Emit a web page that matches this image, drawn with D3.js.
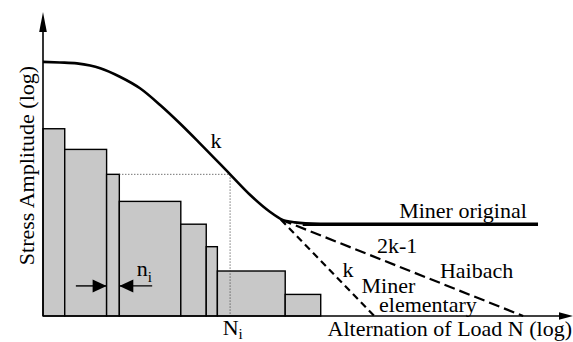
<!DOCTYPE html>
<html>
<head>
<meta charset="utf-8">
<script src="https://cdn.jsdelivr.net/npm/d3@7"></script>
<style>
  body { margin: 0; background: #fff; }
  svg { display: block; }
  text { font-family: "Liberation Serif", "Times New Roman", serif; font-size: 22px; fill: #000; }
</style>
</head>
<body>
<svg width="573" height="342"></svg>
<script>
var svg = d3.select('svg');

// load spectrum blocks: cycle-count edges (log N units) and stress level of each block
var blockEdges = [0, 0.41, 1.2, 1.44, 2.6, 3.08, 3.29, 4.57, 5.24];
var blockLevels = [6.16, 5.48, 4.66, 3.77, 3.02, 2.28, 1.48, 0.71];

// S-N curve
var curveN = [0, 0.32, 0.64, 0.89, 1.08, 1.45, 1.83, 2.21, 2.58, 2.96, 3.53, 3.91, 4.28, 4.51, 4.75, 5.23];
var curveS = [8.36, 8.34, 8.31, 8.24, 8.15, 7.87, 7.49, 6.94, 6.34, 5.68, 4.66, 3.98, 3.43, 3.17, 3.08, 3.02];

// extensions below the knee
var minerOriginalN = [4.9, 9.34];
var minerOriginalS = [3.02, 3.02];
var haibachN = [4.49, 9.06];
var haibachS = [3.17, 0];
var elementaryN = [4.49, 6.25];
var elementaryS = [3.17, 0];

// the marked block i and its life N_i
var markedBlock = 2;
var lifeNi = 3.53;

//scales: both axes are log units with no ticks
var x = d3.scaleLinear().domain([0, 10]).range([43, 573]);
var y = d3.scaleLinear().domain([0, 10]).range([316, 12]);

function pts(ns, ss){
    return ns.map(function(n, i){ return [n, ss[i]]; });
}
var line = d3.line()
    .x(function(d){ return x(d[0]); })
    .y(function(d){ return y(d[1]); });

//blocks
var blocks = blockLevels.map(function(s, i){
    return {n0: blockEdges[i], n1: blockEdges[i + 1], s: s};
});
svg.selectAll('.block')
    .data(blocks)
    .enter()
    .append('rect')
    .attr('class', 'block')
    .attr('x', function(d){ return x(d.n0); })
    .attr('y', function(d){ return y(d.s); })
    .attr('width', function(d){ return x(d.n1) - x(d.n0); })
    .attr('height', function(d){ return y(0) - y(d.s); })
    .attr('fill', '#c8c8c8')
    .attr('stroke', '#000')
    .attr('stroke-width', 1.4);

//dotted guide from block i to the curve and down to N_i
svg.append('path')
    .attr('d', line([[blockEdges[markedBlock + 1], blockLevels[markedBlock]], [lifeNi, blockLevels[markedBlock]], [lifeNi, 0]]))
    .attr('fill', 'none')
    .attr('stroke', '#333')
    .attr('stroke-width', 1)
    .attr('stroke-dasharray', '1,2');

//S-N curve
svg.append('path')
    .attr('d', line.curve(d3.curveMonotoneX)(pts(curveN, curveS)))
    .attr('fill', 'none')
    .attr('stroke', '#000')
    .attr('stroke-width', 2.6);
line.curve(d3.curveLinear);

svg.append('path')
    .attr('d', line(pts(minerOriginalN, minerOriginalS)))
    .attr('stroke', '#000')
    .attr('stroke-width', 3.6);

svg.append('path')
    .attr('d', line(pts(haibachN, haibachS)))
    .attr('stroke', '#000')
    .attr('stroke-width', 2.2)
    .attr('stroke-dasharray', '11,5');

svg.append('path')
    .attr('d', line(pts(elementaryN, elementaryS)))
    .attr('stroke', '#000')
    .attr('stroke-width', 2.2)
    .attr('stroke-dasharray', '7,4.5');

//axes with arrow heads
svg.append('line')
    .attr('x1', x(0)).attr('y1', y(0))
    .attr('x2', x(0)).attr('y2', y(9.4))
    .attr('stroke', '#000').attr('stroke-width', 1.6);
svg.append('path')
    .attr('d', 'M' + x(0) + ',' + y(10) + 'l-3.8,20l7.6,0z');
svg.append('line')
    .attr('x1', x(0)).attr('y1', y(0))
    .attr('x2', x(9.8)).attr('y2', y(0))
    .attr('stroke', '#000').attr('stroke-width', 1.6);
svg.append('path')
    .attr('d', 'M' + x(10) + ',' + y(0) + 'l-14,-3.8l0,7.6z');

//n_i arrows pointing at the width of block i
var arrowV = 0.99;
svg.append('line')
    .attr('x1', x(0.62)).attr('y1', y(arrowV))
    .attr('x2', x(blockEdges[markedBlock])).attr('y2', y(arrowV))
    .attr('stroke', '#000').attr('stroke-width', 1.4);
svg.append('path')
    .attr('d', 'M' + x(blockEdges[markedBlock]) + ',' + y(arrowV) + 'l-14,-6.5l0,13z');
svg.append('line')
    .attr('x1', x(2.06)).attr('y1', y(arrowV))
    .attr('x2', x(blockEdges[markedBlock + 1])).attr('y2', y(arrowV))
    .attr('stroke', '#000').attr('stroke-width', 1.4);
svg.append('path')
    .attr('d', 'M' + x(blockEdges[markedBlock + 1]) + ',' + y(arrowV) + 'l14,-6.5l0,13z');

//labels
var labels = [
    {t: 'k', n: 3.16, s: 5.52},
    {t: 'Miner original', n: 6.72, s: 3.23},
    {t: '2k-1', n: 6.30, s: 2.06},
    {t: 'Haibach', n: 7.49, s: 1.24},
    {t: 'k', n: 5.65, s: 1.27},
    {t: 'Miner', n: 6.01, s: 0.75},
    {t: 'elementary', n: 6.34, s: 0.14},
    {t: 'Alternation of Load N (log)', n: 5.37, s: -0.66}
];
svg.selectAll('.lbl')
    .data(labels)
    .enter()
    .append('text')
    .attr('class', 'lbl')
    .attr('x', function(d){ return x(d.n); })
    .attr('y', function(d){ return y(d.s); })
    .text(function(d){ return d.t; });

var ni = svg.append('text').attr('x', x(1.77)).attr('y', y(1.32));
ni.append('tspan').text('n');
ni.append('tspan').attr('dy', 6).style('font-size', '15px').text('i');

var Ni = svg.append('text').attr('x', x(3.39)).attr('y', y(-0.62));
Ni.append('tspan').text('N');
Ni.append('tspan').attr('dy', 4).style('font-size', '15px').text('i');

svg.append('text')
    .attr('transform', 'translate(34,' + y(4.95) + ') rotate(-90)')
    .attr('text-anchor', 'middle')
    .text('Stress Amplitude (log)');
</script>
</body>
</html>
